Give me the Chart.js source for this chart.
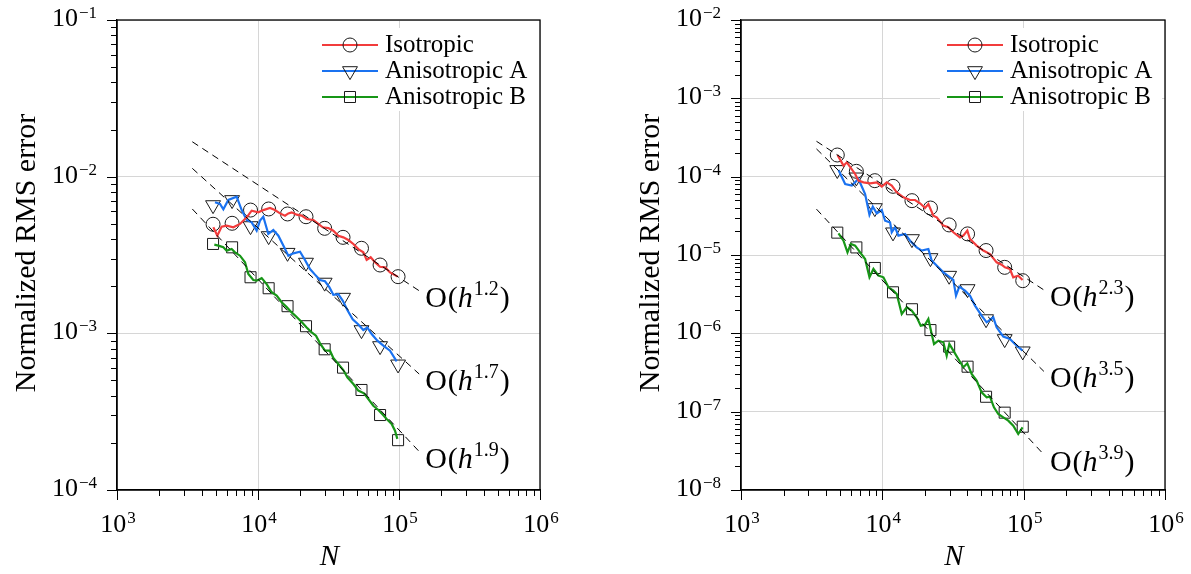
<!DOCTYPE html>
<html><head><meta charset="utf-8">
<script src="https://cdn.jsdelivr.net/npm/chart.js@4/dist/chart.umd.min.js"></script>
<style>
html,body{margin:0;padding:0;background:#fff;}
body{width:1191px;height:574px;overflow:hidden;position:relative;}
canvas{position:absolute;top:0;}
</style></head><body>
<canvas id="cL" width="595" height="574" style="left:0px"></canvas>
<canvas id="cR" width="596" height="574" style="left:595px"></canvas>
<script>
// ---------- data ----------
const seriesNames = ['Isotropic', 'Anisotropic A', 'Anisotropic B'];
const xTicks = [1e3, 1e4, 1e5, 1e6];
const xTickExps = ['3', '4', '5', '6'];
const yTicksL = [1e-4, 1e-3, 1e-2, 1e-1];
const yTickExpsL = ['−4', '−3', '−2', '−1'];
const yTicksR = [1e-8, 1e-7, 1e-6, 1e-5, 1e-4, 1e-3, 1e-2];
const yTickExpsR = ['−8', '−7', '−6', '−5', '−4', '−3', '−2'];
const slopeLabelsL = ['1.2', '1.7', '1.9'];
const slopeLabelsR = ['2.3', '3.5', '3.9'];

const markerN = [4800, 6550, 8850, 11900, 16200, 21900, 29700, 40100, 54200, 73400, 98500];

// left panel markers
const isoMarkL = [4.97e-3, 5.04e-3, 6.12e-3, 6.22e-3, 5.78e-3, 5.55e-3, 4.68e-3, 4.10e-3, 3.49e-3, 2.73e-3, 2.30e-3];
const anaMarkL = [6.59e-3, 7.10e-3, 4.84e-3, 4.18e-3, 3.27e-3, 2.83e-3, 2.11e-3, 1.69e-3, 1.05e-3, 8.30e-4, 6.34e-4];
const anbMarkL = [3.72e-3, 3.54e-3, 2.28e-3, 1.94e-3, 1.49e-3, 1.11e-3, 7.91e-4, 6.04e-4, 4.35e-4, 3.01e-4, 2.08e-4];
// right panel markers
const isoMarkR = [1.89e-4, 1.17e-4, 8.89e-5, 7.53e-5, 4.94e-5, 3.98e-5, 2.42e-5, 1.86e-5, 1.14e-5, 6.96e-6, 4.70e-6];
const anaMarkR = [1.22e-4, 9.81e-5, 3.98e-5, 1.95e-5, 1.60e-5, 9.16e-6, 5.45e-6, 3.68e-6, 1.52e-6, 8.47e-7, 5.90e-7];
const anbMarkR = [1.93e-5, 1.25e-5, 6.83e-6, 3.34e-6, 2.03e-6, 1.10e-6, 6.76e-7, 3.75e-7, 1.55e-7, 9.71e-8, 6.43e-8];

// left panel noisy lines
const isoNL = [4822,5147,5525,5994,6685,7455,8312,9017,10055,10910,12163,13195,14323,15541,16411,17330,18800,20402,22135,24690,26780,28741,31535,34210,37126,40290,43719,47448,51480,55850,58970,62960,67560,73330,79570,86330,97850];
const isoEL = [4.75e-3,4.20e-3,4.80e-3,4.87e-3,4.75e-3,4.99e-3,5.50e-3,6.07e-3,5.92e-3,6.12e-3,6.31e-3,6.12e-3,5.83e-3,5.64e-3,5.83e-3,5.92e-3,5.72e-3,5.64e-3,5.37e-3,5.29e-3,4.99e-3,4.75e-3,4.70e-3,4.52e-3,4.20e-3,4.10e-3,3.94e-3,3.72e-3,3.45e-3,3.29e-3,2.94e-3,3.06e-3,2.84e-3,2.66e-3,2.64e-3,2.45e-3,2.30e-3];
const anaNL = [4955,5377,5678,6159,7059,7660,8312,9017,9785,10332,10910,11836,12848,13942,15123,16411,17810,19860,21544,23375,25363,27530,29864,32056,34210,37126,39850,43010,46933,51480,55850,59620,64000,70220,77450,86330,96260];
const anaEL = [6.86e-3,6.69e-3,6.19e-3,7.10e-3,7.45e-3,6.12e-3,5.29e-3,5.11e-3,4.52e-3,5.24e-3,5.55e-3,4.31e-3,4.57e-3,4.20e-3,3.63e-3,3.13e-3,3.24e-3,3.32e-3,2.94e-3,2.57e-3,2.37e-3,2.19e-3,2.15e-3,1.97e-3,1.76e-3,1.78e-3,1.62e-3,1.41e-3,1.23e-3,1.14e-3,1.05e-3,1.09e-3,9.90e-4,8.98e-4,8.34e-4,7.75e-4,6.63e-4];
const anbNL = [4901,5232,5678,5994,6505,6869,7455,8089,8541,9266,9785,10617,11520,12498,13564,14717,15970,17330,18800,20402,22135,24030,25780,27530,29864,32400,34210,37126,40290,43010,47448,51480,56460,60600,65760,71350,76600,81730,88700,93680,97310];
const anbEL = [3.68e-3,3.63e-3,3.54e-3,3.37e-3,3.45e-3,3.29e-3,3.13e-3,2.84e-3,2.39e-3,2.19e-3,2.17e-3,2.25e-3,2.06e-3,1.83e-3,1.74e-3,1.58e-3,1.47e-3,1.36e-3,1.27e-3,1.18e-3,1.09e-3,1.015e-3,9.66e-4,8.63e-4,7.75e-4,7.75e-4,6.96e-4,6.37e-4,5.83e-4,5.24e-4,4.75e-4,4.31e-4,4.14e-4,3.81e-4,3.45e-4,3.24e-4,3.03e-4,2.84e-4,2.64e-4,2.39e-4,2.12e-4];

// right panel noisy lines
const isoNR = [4817,5311,5607,6421,6778,7354,8197,9135,9909,10747,11657,12646,14096,15712,17043,18489,20052,21169,22963,24250,27025,29310,31793,35435,37410,39930,41700,46480,51810,57740,64360,69810,73690,79930,84380,91530,98230];
const isoER = [1.891e-4,1.382e-4,1.524e-4,1.082e-4,8.89e-5,8.47e-5,8.22e-5,8.47e-5,7.46e-5,8.47e-5,7.68e-5,6.31e-5,5.45e-5,5.04e-5,5.04e-5,4.57e-5,3.98e-5,4.48e-5,3.18e-5,3.03e-5,2.37e-5,2.26e-5,1.95e-5,1.68e-5,1.77e-5,2.05e-5,1.60e-5,1.32e-5,1.14e-5,1.03e-5,8.06e-6,7.53e-6,6.96e-6,6.63e-6,5.19e-6,5.45e-6,4.80e-6];
const anaNR = [4895,5458,6082,6778,7553,8109,8560,9135,9909,10460,11346,11657,12306,12996,14482,15712,17510,18996,21169,22350,24910,27025,30114,31793,33210,35050,38440,41700,45240,50420,54700,60960,64360,71740,79930,86700,98230];
const anaER = [1.217e-4,8.06e-5,7.68e-5,9.34e-5,6.01e-5,3.27e-5,4.14e-5,3.40e-5,3.75e-5,2.74e-5,2.61e-5,1.948e-5,2.26e-5,1.766e-5,1.855e-5,1.524e-5,1.253e-5,1.136e-5,1.193e-5,8.47e-6,6.96e-6,6.01e-6,5.19e-6,4.80e-6,3.03e-6,3.94e-6,3.51e-6,3.03e-6,2.26e-6,1.681e-6,1.382e-6,1.601e-6,1.193e-6,9.07e-7,8.47e-7,7.31e-7,6.01e-7];
const anbNR = [4895,5311,5668,5984,6421,6966,7553,8109,8653,9384,10180,11044,11976,12646,13720,14881,16140,17510,18690,20052,21169,22350,23214,24910,27025,28530,29790,31793,34490,37410,39930,42840,46480,50420,54700,57740,61630,66120,71740,77790,84380,91530,98230];
const anbER = [1.891e-5,1.524e-5,1.082e-5,1.382e-5,1.316e-5,1.082e-5,8.89e-6,5.19e-6,6.63e-6,5.45e-6,5.19e-6,3.87e-6,3.51e-6,3.18e-6,1.766e-6,2.15e-6,1.948e-6,1.601e-6,1.253e-6,1.290e-6,1.524e-6,9.81e-7,7.31e-7,8.06e-7,7.68e-7,5.19e-7,7.31e-7,6.01e-7,4.70e-7,3.68e-7,4.14e-7,3.03e-7,2.49e-7,1.766e-7,1.524e-7,1.554e-7,1.136e-7,9.34e-8,8.47e-8,7.68e-8,6.63e-8,5.19e-8,6.31e-8];

// dashed reference slopes (end points)
const refN = [3420, 139000];
const ref1L = [1.67e-2, 1.87e-3];
const ref2L = [1.13e-2, 5.50e-4];
const ref3L = [6.22e-3, 1.76e-4];
const ref1R = [2.83e-4, 3.58e-6];
const ref2R = [2.26e-4, 3.27e-7];
const ref3R = [3.85e-5, 2.83e-8];

// ---------- style ----------
const COLORS = ['#f23c3c', '#1a72f0', '#179617'];
const MARKERS = [
  {pointStyle: 'circle', radius: 7, rotation: 0},
  {pointStyle: 'triangle', radius: 8.6, rotation: 180},
  {pointStyle: 'rect', radius: 7.8, rotation: 0}
];
const SERIF = '"Liberation Serif", "DejaVu Serif", serif';

function pts(xs, ys) { return xs.map((x, i) => ({x: x, y: ys[i]})); }

function drawPow(ctx, x, y, base, exp, align, bSize, eSize, raise) {
  ctx.font = bSize + 'px ' + SERIF;
  const wb = ctx.measureText(base).width;
  ctx.font = eSize + 'px ' + SERIF;
  const we = ctx.measureText(exp).width;
  const tot = wb + 1 + we;
  let x0 = align === 'center' ? x - tot / 2 : (align === 'right' ? x - tot : x);
  ctx.textAlign = 'left';
  ctx.textBaseline = 'alphabetic';
  ctx.font = bSize + 'px ' + SERIF;
  ctx.fillText(base, x0, y);
  ctx.font = eSize + 'px ' + SERIF;
  ctx.fillText(exp, x0 + wb + 1, y - raise);
}

function makePanel(canvasId, cfg) {
  const ds = [];
  cfg.refs.forEach(r => ds.push({
    data: pts(refN, r), borderColor: '#000', borderWidth: 1, borderDash: [7, 5],
    pointRadius: 0, fill: false, tension: 0
  }));
  cfg.lines.forEach((l, i) => ds.push({
    data: pts(l[0], l[1]), borderColor: COLORS[i], borderWidth: 2.2,
    pointRadius: 0, fill: false, tension: 0
  }));
  cfg.marks.forEach((m, i) => ds.push({
    data: pts(markerN, m), showLine: false, pointStyle: MARKERS[i].pointStyle,
    pointRadius: MARKERS[i].radius, pointRotation: MARKERS[i].rotation,
    pointBorderColor: '#1a1a1a', pointBackgroundColor: 'rgba(0,0,0,0)', pointBorderWidth: 1,
    borderColor: '#1a1a1a', backgroundColor: 'rgba(0,0,0,0)'
  }));

  const deco = {
    id: 'deco',
    afterDraw(chart) {
      const ctx = chart.ctx, a = chart.chartArea;
      const xs = chart.scales.x, ys = chart.scales.y;
      ctx.save();
      // frame
      ctx.strokeStyle = '#000'; ctx.lineWidth = 1.3;
      ctx.strokeRect(a.left, a.top, a.right - a.left, a.bottom - a.top);
      // ticks
      ctx.lineWidth = 1;
      ctx.beginPath();
      xTicks.forEach((v, j) => {
        for (let k = 1; k <= 9; k++) {
          if (j === xTicks.length - 1 && k > 1) break;
          const px = Math.round(xs.getPixelForValue(v * k)) + 0.5;
          const len = k === 1 ? 10 : 6;
          ctx.moveTo(px, a.bottom); ctx.lineTo(px, a.bottom + len);
        }
      });
      cfg.yTicks.forEach((v, j) => {
        for (let k = 1; k <= 9; k++) {
          if (j === cfg.yTicks.length - 1 && k > 1) break;
          const py = Math.round(ys.getPixelForValue(v * k)) + 0.5;
          const len = k === 1 ? 10 : 6;
          ctx.moveTo(a.left, py); ctx.lineTo(a.left - len, py);
        }
      });
      ctx.stroke();
      // tick labels
      ctx.fillStyle = '#000';
      xTicks.forEach((v, j) => {
        drawPow(ctx, xs.getPixelForValue(v) + 1, 532, '10', xTickExps[j], 'center', 26, 17, 9);
      });
      cfg.yTicks.forEach((v, j) => {
        drawPow(ctx, a.left - 20, ys.getPixelForValue(v) + 6, '10', cfg.yTickExps[j], 'right', 26, 17, 8);
      });
      // axis titles
      ctx.font = 'italic 29px ' + SERIF;
      ctx.textAlign = 'center'; ctx.textBaseline = 'alphabetic';
      ctx.fillText('N', (a.left + a.right) / 2 + 1, 565);
      ctx.save();
      ctx.translate(a.left - 82, (a.top + a.bottom) / 2 - 2);
      ctx.rotate(-Math.PI / 2);
      ctx.font = '30px ' + SERIF;
      ctx.fillText('Normalized RMS error', 0, 0);
      ctx.restore();
      // slope labels
      cfg.refs.forEach((r, i) => {
        const ex = xs.getPixelForValue(refN[1]) + 6;
        const ey = ys.getPixelForValue(r[1]) + 6;
        let x = ex;
        const base = ey + 10;
        ctx.textAlign = 'left'; ctx.textBaseline = 'alphabetic';
        ctx.font = '30px ' + SERIF;
        ctx.fillText('O', x, base); x += ctx.measureText('O').width + 1;
        ctx.fillText('(', x, base); x += ctx.measureText('(').width;
        ctx.font = 'italic 30px ' + SERIF;
        ctx.fillText('h', x, base); x += ctx.measureText('h').width + 1;
        ctx.font = '20px ' + SERIF;
        ctx.fillText(cfg.slopes[i], x, base - 12); x += ctx.measureText(cfg.slopes[i]).width + 1;
        ctx.font = '30px ' + SERIF;
        ctx.fillText(')', x, base);
      });
      // legend
      const lx0 = a.right - 218, lx1 = a.right - 162, lm = a.right - 190, tx = a.right - 155;
      ctx.fillStyle = '#fff';
      ctx.fillRect(a.right - 225, 28, 222, 83);
      const rows = [45, 71, 97];
      seriesNames.forEach((name, i) => {
        const y = rows[i];
        ctx.strokeStyle = COLORS[i]; ctx.lineWidth = 2.2;
        ctx.beginPath(); ctx.moveTo(lx0, y); ctx.lineTo(lx1, y); ctx.stroke();
        ctx.strokeStyle = '#1a1a1a'; ctx.fillStyle = 'rgba(0,0,0,0)'; ctx.lineWidth = 1;
        Chart.helpers.drawPoint(ctx, {pointStyle: MARKERS[i].pointStyle, radius: MARKERS[i].radius,
          rotation: MARKERS[i].rotation, borderWidth: 1}, lm, y);
        ctx.fillStyle = '#000';
        ctx.font = '25px ' + SERIF; ctx.textAlign = 'left'; ctx.textBaseline = 'alphabetic';
        ctx.fillText(name, tx, y + 7);
      });
      ctx.restore();
    }
  };

  return new Chart(document.getElementById(canvasId), {
    type: 'line',
    data: {datasets: ds},
    options: {
      responsive: false, animation: false, devicePixelRatio: 1,
      layout: {padding: {left: 0, top: 20, right: cfg.padRight, bottom: 0}},
      plugins: {legend: {display: false}, tooltip: {enabled: false}},
      scales: {
        x: {
          type: 'logarithmic', position: 'bottom', min: 1e3, max: 1e6,
          afterBuildTicks: s => { s.ticks = xTicks.map(v => ({value: v, major: true})); },
          afterFit: s => { s.height = 84; },
          ticks: {display: false, autoSkip: false},
          grid: {color: '#d6d6d6', lineWidth: 1, drawTicks: false},
          border: {color: '#000', width: 1.3}
        },
        y: {
          type: 'logarithmic', position: 'left', min: cfg.yTicks[0], max: cfg.yTicks[cfg.yTicks.length - 1],
          afterBuildTicks: s => { s.ticks = cfg.yTicks.map(v => ({value: v, major: true})); },
          afterFit: s => { s.width = cfg.yWidth; },
          ticks: {display: false, autoSkip: false},
          grid: {color: '#d6d6d6', lineWidth: 1, drawTicks: false},
          border: {color: '#000', width: 1.3}
        }
      }
    },
    plugins: [deco]
  });
}

makePanel('cL', {
  yTicks: yTicksL, yTickExps: yTickExpsL, slopes: slopeLabelsL,
  refs: [ref1L, ref2L, ref3L],
  lines: [[isoNL, isoEL], [anaNL, anaEL], [anbNL, anbEL]],
  marks: [isoMarkL, anaMarkL, anbMarkL],
  yWidth: 117, padRight: 55
});
makePanel('cR', {
  yTicks: yTicksR, yTickExps: yTickExpsR, slopes: slopeLabelsR,
  refs: [ref1R, ref2R, ref3R],
  lines: [[isoNR, isoER], [anaNR, anaER], [anbNR, anbER]],
  marks: [isoMarkR, anaMarkR, anbMarkR],
  yWidth: 146, padRight: 26
});
</script>
</body></html>
